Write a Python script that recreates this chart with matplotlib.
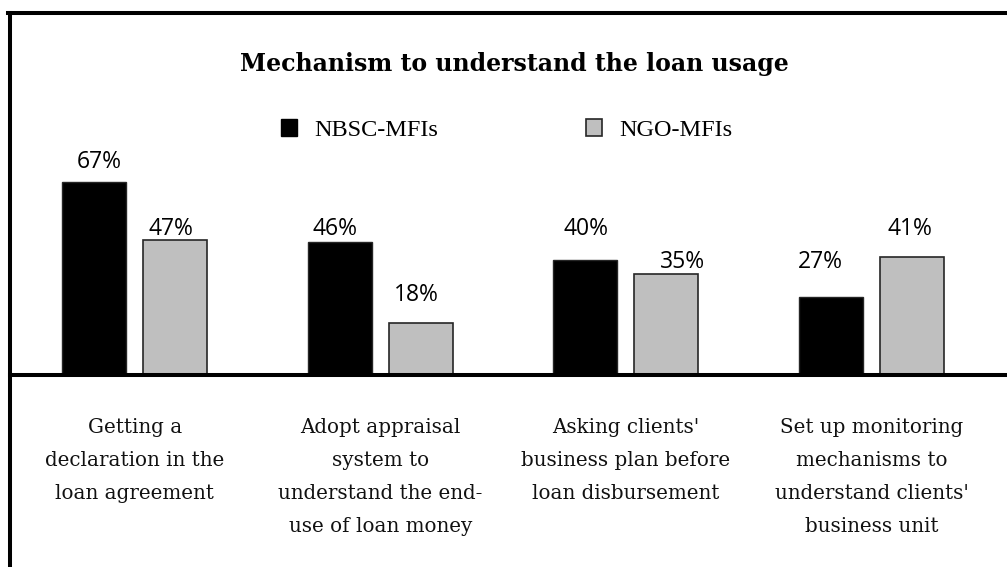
import matplotlib

matplotlib.use('Agg')
import matplotlib.pyplot as plt
import numpy as np
from matplotlib.lines import Line2D
from matplotlib.patches import Patch

# data
categories = [
    "Getting a\ndeclaration in the\nloan agreement",
    "Adopt appraisal\nsystem to\nunderstand the end-\nuse of loan money",
    "Asking clients'\nbusiness plan before\nloan disbursement",
    "Set up monitoring\nmechanisms to\nunderstand clients'\nbusiness unit",
]
series_names = ["NBSC-MFIs", "NGO-MFIs"]
nbsc = [67, 46, 40, 27]
ngo = [47, 18, 35, 41]
title = "Mechanism to understand the loan usage"

# label nudges in points (dx, dy from bar top), as placed in the original
nbsc_lab = [(3.6, 14.2), (-3.4, 9.7), (0.7, 22.1), (-7.7, 25.2)]
ngo_lab = [(-2.9, 7.6), (-3.5, 19.7), (11.3, 8.6), (-1.8, 20.0)]

W, H = 1007, 567
fig = plt.figure(figsize=(W / 100, H / 100), dpi=100)
fig.patch.set_facecolor('white')

# plot area: baseline at y=374.5 px, frame top at 13 px
ax = fig.add_axes([9.5 / W, 1 - 374.5 / H, 1 - 9.5 / W, (374.5 - 13) / H])
x = np.arange(len(categories))
bw = 0.26
off = 0.165
ax.bar(x - off, nbsc, bw, color='black', edgecolor='#262626', linewidth=1,
       label=series_names[0], zorder=2)
ax.bar(x + off, ngo, bw, color='#BFBFBF', edgecolor='#262626', linewidth=1.2,
       label=series_names[1], zorder=2)

px_per_unit = 245.6
ax.set_xlim(-125.2 / px_per_unit, (W - 134.7) / px_per_unit)
ax.set_ylim(0, 361.5 / 2.87)

for i in range(len(categories)):
    for v, xo, (dx, dy) in ((nbsc[i], -off, nbsc_lab[i]), (ngo[i], off, ngo_lab[i])):
        ax.annotate(f"{v}%", (x[i] + xo, v), xytext=(dx, dy),
                    textcoords='offset points', ha='center', va='center',
                    fontsize=16.5, family='Open Sans', color='black',
                    annotation_clip=False, zorder=3)

ax.set_xticks(x)
ax.set_xticklabels(categories, family='DejaVu Serif', fontsize=14.3,
                   linespacing=1.95, color='#111111')
ax.tick_params(axis='x', length=0, pad=31)
ax.set_yticks([])
for s in ['left', 'right', 'top']:
    ax.spines[s].set_visible(False)
ax.spines['bottom'].set_linewidth(2.9)
ax.spines['bottom'].set_color('black')
ax.patch.set_alpha(0)

# outer frame (left and top edges visible)
fig.add_artist(Line2D([9.5 / W, 9.5 / W], [0, 1 - 13 / H], color='black',
                      linewidth=2.9, transform=fig.transFigure))
fig.add_artist(Line2D([7.5 / W, 1], [1 - 13 / H, 1 - 13 / H], color='black',
                      linewidth=2.9, transform=fig.transFigure))

fig.text(514.5 / W, 1 - 63.5 / H, title, ha='center', va='center',
         family='DejaVu Serif', fontweight='bold', fontsize=17)

handles = [Patch(facecolor='black', edgecolor='black', linewidth=1),
           Patch(facecolor='#BFBFBF', edgecolor='#262626', linewidth=1.2)]
fig.legend(handles, series_names, loc='center', ncol=2,
           bbox_to_anchor=(506.5 / W, 1 - 130 / H), frameon=False,
           prop={'family': 'Liberation Serif', 'size': 17.5},
           handlelength=0.66, handleheight=0.66, handletextpad=0.7,
           columnspacing=6.1, borderpad=0, borderaxespad=0)

fig.savefig('out.png', dpi=100)
